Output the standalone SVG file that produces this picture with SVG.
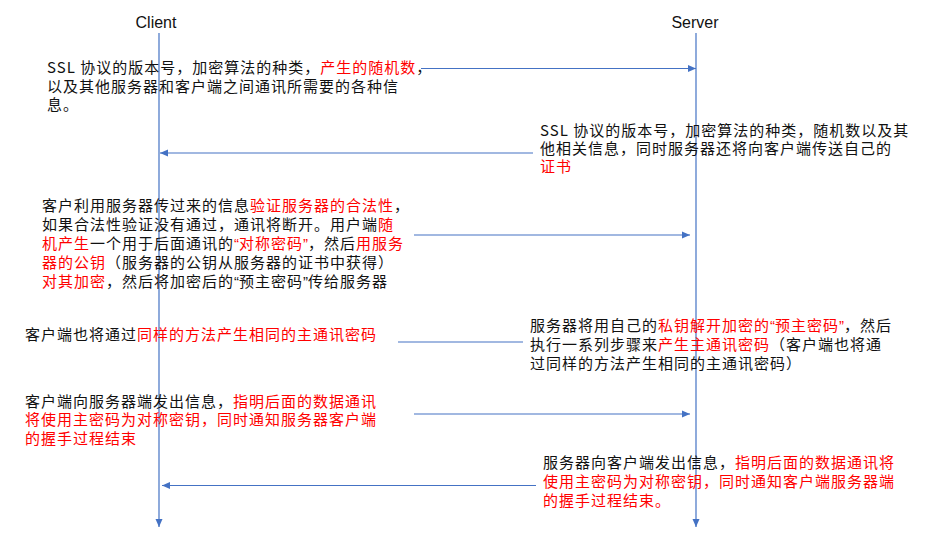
<svg xmlns="http://www.w3.org/2000/svg" width="937" height="538" viewBox="0 0 937 538">
<style>
.t{font-family:"Noto Sans CJK SC","Liberation Sans",sans-serif;font-size:15px;letter-spacing:1px;fill:#111}
.h{font-family:"Liberation Sans","Noto Sans",sans-serif;font-size:16px;fill:#111;text-anchor:middle}
.q{font-family:"Liberation Sans",sans-serif;letter-spacing:0}
.r{fill:#ff0000}
.ln{stroke:#4472c4;stroke-width:1.2;fill:none}
</style>
<defs>
<marker id="ah" markerUnits="userSpaceOnUse" markerWidth="10" markerHeight="10" viewBox="0 0 10 10" refX="9" refY="5" orient="auto"><path d="M1,1.5 L9,5 L1,8.5 z" fill="#4472c4"/></marker>
</defs>
<rect width="937" height="538" fill="#fff"/>
<g id="client"><text class="h" x="156" y="28">Client</text></g>
<g id="server"><text class="h" x="695" y="28">Server</text></g>
<g id="connectors">
<line class="ln" x1="159" y1="33" x2="159" y2="527" marker-end="url(#ah)"/>
<line class="ln" x1="696" y1="33" x2="696" y2="527" marker-end="url(#ah)"/>
<line class="ln" x1="421" y1="68.5" x2="696" y2="68.5" marker-end="url(#ah)"/>
<line class="ln" x1="533" y1="153" x2="160" y2="153" marker-end="url(#ah)"/>
<line class="ln" x1="414" y1="235" x2="690" y2="235" marker-end="url(#ah)"/>
<line class="ln" x1="398" y1="342" x2="523" y2="342"/>
<line class="ln" x1="414" y1="414" x2="690" y2="414" marker-end="url(#ah)"/>
<line class="ln" x1="536" y1="485.5" x2="162" y2="485.5" marker-end="url(#ah)"/>
</g>
<g id="msg1">
<text class="t" x="47" y="73">SSL 协议的版本号，加密算法的种类，<tspan class="r">产生的随机数</tspan>，</text>
<text class="t" x="47" y="92">以及其他服务器和客户端之间通讯所需要的各种信</text>
<text class="t" x="47" y="110">息。</text>
</g>
<g id="msg2">
<text class="t" x="540" y="136">SSL 协议的版本号，加密算法的种类，随机数以及其</text>
<text class="t" x="540" y="154">他相关信息，同时服务器还将向客户端传送自己的</text>
<text class="t" x="540" y="172"><tspan class="r">证书</tspan></text>
</g>
<g id="msg3">
<text class="t" x="42" y="211">客户利用服务器传过来的信息<tspan class="r">验证服务器的合法性</tspan>，</text>
<text class="t" x="42" y="230">如果合法性验证没有通过，通讯将断开。用户端<tspan class="r">随</tspan></text>
<text class="t" x="42" y="249"><tspan class="r">机产生</tspan>一个用于后面通讯的<tspan class="r"><tspan class="q">“</tspan>对称密码<tspan class="q">”</tspan></tspan>，然后<tspan class="r">用服务</tspan></text>
<text class="t" x="42" y="268"><tspan class="r">器的公钥</tspan>（服务器的公钥从服务器的证书中获得）</text>
<text class="t" x="42" y="287"><tspan class="r">对其加密</tspan>，然后将加密后的<tspan class="q">“</tspan>预主密码<tspan class="q">”</tspan>传给服务器</text>
</g>
<g id="msg4c">
<text class="t" x="25" y="340">客户端也将通过<tspan class="r">同样的方法产生相同的主通讯密码</tspan></text>
</g>
<g id="msg4s">
<text class="t" x="530" y="331">服务器将用自己的<tspan class="r">私钥解开加密的<tspan class="q">“</tspan>预主密码<tspan class="q">”</tspan></tspan>，然后</text>
<text class="t" x="530" y="350">执行一系列步骤来<tspan class="r">产生主通讯密码</tspan>（客户端也将通</text>
<text class="t" x="530" y="369">过同样的方法产生相同的主通讯密码）</text>
</g>
<g id="msg5">
<text class="t" x="25" y="407">客户端向服务器端发出信息，<tspan class="r">指明后面的数据通讯</tspan></text>
<text class="t r" x="25" y="425">将使用主密码为对称密钥，同时通知服务器客户端</text>
<text class="t r" x="25" y="444">的握手过程结束</text>
</g>
<g id="msg6">
<text class="t" x="543" y="468">服务器向客户端发出信息，<tspan class="r">指明后面的数据通讯将</tspan></text>
<text class="t r" x="543" y="487">使用主密码为对称密钥，同时通知客户端服务器端</text>
<text class="t r" x="543" y="506">的握手过程结束。</text>
</g>
</svg>
